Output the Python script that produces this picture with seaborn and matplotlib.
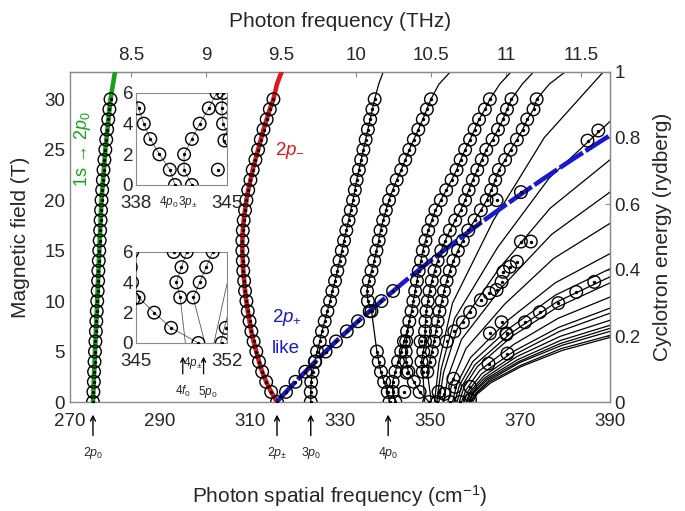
import numpy as np
import pandas as pd
import matplotlib
matplotlib.use("Agg")
import matplotlib.pyplot as plt
import matplotlib.transforms as mtransforms
import seaborn as sns

GREEN = "#16a316"
RED = "#e2161c"
BLUE = "#1717d4"
FRAME = "#8a8a8a"

# field steps (T) of the dense measured traces
field_0_30 = list(range(31))

# 1s -> 2p0 (green)
green_wn = [275.1, 275.2, 275.3, 275.35, 275.45, 275.55, 275.65, 275.75, 275.85, 275.95,
            276.05, 276.15, 276.25, 276.3, 276.4, 276.5, 276.6, 276.7, 276.8, 276.9,
            277.0, 277.15, 277.3, 277.45, 277.65, 277.85, 278.05, 278.25, 278.5, 278.75, 279.0]
green_line_B = [0, 5, 10, 15, 20, 25, 30, 32.7]
green_line_wn = [275.1, 275.55, 276.05, 276.5, 277.0, 277.85, 279.0, 280.0]

# 2p- (red)
red_wn = [316.0, 314.7, 313.6, 312.7, 312.0, 311.4, 310.8, 310.3, 309.9, 309.5,
          309.2, 308.9, 308.7, 308.5, 308.4, 308.3, 308.3, 308.4, 308.6, 308.9,
          309.2, 309.6, 310.1, 310.6, 311.2, 311.8, 312.4, 313.0, 313.7, 314.4, 315.2]
red_top_B = [31.5, 32.7]
red_top_wn = [316.0, 317.0]

# 2p+ like (blue)
blue_line_B = [0, 2, 4, 6, 8, 10, 12, 14, 16, 18, 20, 22, 24, 26, 28]
blue_line_wn = [315.9, 320.1, 324.5, 329.1, 334.0, 339.2, 344.5, 350.1, 356.0, 362.0,
                368.3, 374.8, 381.5, 388.5, 395.7]
blue_circ_B = [1, 2, 3, 4, 5, 6, 7, 8, 9, 10, 11, 20.8, 25.9, 26.9]
blue_circ_wn = [318.0, 320.1, 322.3, 324.5, 326.8, 329.1, 331.5, 334.0, 336.6, 339.2,
                341.8, 370.2, 385.0, 387.4]

# 3p0
p30_wn = [323.5, 323.5, 323.6, 323.9, 324.4, 324.9, 325.5, 326.0, 326.6, 327.2,
          327.8, 328.3, 328.9, 329.4, 329.9, 330.4, 330.9, 331.4, 331.9, 332.4,
          332.9, 333.3, 333.7, 334.2, 334.7, 335.2, 335.7, 336.2, 336.7, 337.2, 337.7]
p30_top_wn = [338.6, 339.6]

# 4p0
p40_B = [0, 1, 2, 3, 4, 5, 9, 10, 11, 12, 13, 14, 15, 16, 17, 18, 19, 20,
         21, 22, 23, 24, 25, 26, 27, 28, 29, 30]
p40_wn = [341.0, 340.6, 339.8, 339.1, 338.6, 338.2, 337.0, 336.2, 336.0, 336.4,
          337.0, 337.6, 338.1, 338.6, 339.0, 339.6, 340.2, 340.9, 341.7, 342.6,
          343.6, 344.5, 345.4, 346.4, 347.4, 348.4, 349.3, 350.2]
p40_top_wn = [352.0, 354.5]

# 3p+-
p3pm_wn = [342.3, 341.7, 341.7, 342.3, 342.9, 343.6, 344.2, 344.9, 345.4, 345.9,
           346.3, 346.7, 347.1, 347.5, 348.0, 348.4, 349.0, 349.6, 350.4, 351.2,
           352.4, 353.6, 354.8, 355.9, 356.8, 357.8, 358.9, 359.9, 360.9, 362.2, 363.3]
p3pm_top_wn = [365.5, 368.0]

# two further dense traces (from 3 T)
field_3_30 = list(range(3, 31))
tb_wn = [348.4, 348.1, 348.5, 348.9, 348.9, 349.0, 349.2, 349.5, 349.9, 350.4,
         351.0, 351.7, 352.5, 353.4, 354.4, 355.6, 356.8, 357.8, 358.6, 359.5,
         360.5, 361.5, 362.5, 363.9, 365.1, 366.2, 367.1, 368.1]
tb_ends_wn = [348.8, 370.5, 373.0]
tc_wn = [349.4, 349.9, 350.4, 350.9, 351.3, 351.7, 352.1, 352.6, 353.1, 353.7,
         354.4, 355.2, 356.2, 357.3, 358.5, 359.9, 361.3, 362.6, 363.6, 364.5,
         365.3, 366.7, 367.9, 369.3, 370.6, 371.6, 373.0, 373.7]
tc_ends_wn = [350.3, 376.5, 380.0]
ends_B = [0, 31.5, 32.7]

# low-field branch seen in the insets
td_B = [0, 1, 2, 3, 4, 5, 6, 7, 8]
td_wn = [349.8, 347.7, 346.4, 345.2, 344.7, 344.6, 344.7, 345.0, 345.4]

# scattered measured lines at low field and in the fan region
extra_B = [1.0, 2.9, 6.0, 1.0, 0.0, 0.0, 0.0, 0.2, 1.5, 1.5, 2.3, 0.8,
           6.0, 7.0, 7.9, 8.9, 10.1, 10.8, 11.1, 11.9, 12.9, 13.4, 13.9, 15.9, 15.9,
           6.7, 7.9, 8.9, 9.8, 10.9, 11.9, 3.8, 4.8, 6.8, 7.9, 6.8, 20.0]
extra_wn = [344.3, 344.8, 347.9, 351.9, 351.6, 354.4, 356.7, 358.9, 355.6, 358.9, 355.2, 353.2,
            353.7, 355.4, 357.3, 358.9, 361.3, 363.2, 364.8, 365.9, 366.3, 367.8, 369.3, 370.2, 372.4,
            367.0, 371.1, 374.4, 378.5, 382.5, 386.5, 363.0, 367.2, 367.0, 365.9, 363.3, 364.8]

# calculated fan of higher states
fan_wn = [
    [351.0, 352.0, 355.0, 364.1, 375.4, 388.5],
    [351.5, 352.5, 355.5, 365.0, 376.5, 390.0],
    [352.0, 353.0, 356.0, 365.3, 376.7, 390.0],
    [353.0, 354.0, 357.0, 366.0, 377.0, 390.0],
    [354.0, 355.0, 358.0, 366.6, 377.4, 390.0],
    [355.0, 356.0, 359.0, 367.3, 377.8, 390.0],
    [355.5, 356.5, 359.5, 367.6, 377.9, 390.0],
    [356.0, 357.0, 360.0, 367.9, 378.1, 390.0],
    [356.5, 357.5, 360.5, 368.2, 378.3, 390.0],
    [357.0, 358.0, 361.0, 368.6, 378.5, 390.0],
    [357.5, 358.5, 361.5, 368.9, 378.6, 390.0],
    [358.0, 359.0, 362.0, 369.2, 378.8, 390.0],
    [358.2, 359.2, 362.2, 369.3, 378.9, 390.0],
    [358.5, 359.5, 362.5, 369.5, 379.0, 390.0],
    [358.7, 359.7, 362.7, 369.7, 379.0, 390.0],
    [359.0, 360.0, 363.0, 369.9, 379.2, 390.0],
    [359.2, 360.2, 363.2, 370.0, 379.2, 390.0],
    [359.5, 360.5, 363.5, 370.2, 379.3, 390.0],
]
fan_B = [
    [0, 3.9, 9.8, 18.0, 26.2, 32.7],
    [0, 3.3, 8.3, 15.3, 22.2, 27.8],
    [0, 2.9, 7.2, 13.2, 19.2, 24.0],
    [0, 2.5, 6.2, 11.4, 16.6, 20.8],
    [0, 2.1, 5.3, 9.7, 14.2, 17.7],
    [0, 1.8, 4.4, 8.1, 11.8, 14.7],
    [0, 1.6, 4.0, 7.3, 10.6, 13.2],
    [0, 1.5, 3.7, 6.8, 9.9, 12.4],
    [0, 1.4, 3.5, 6.5, 9.4, 11.8],
    [0, 1.2, 3.1, 5.7, 8.3, 10.4],
    [0, 1.1, 2.8, 5.1, 7.4, 9.3],
    [0, 1.1, 2.6, 4.8, 7.0, 8.8],
    [0, 1.0, 2.4, 4.5, 6.5, 8.1],
    [0, 0.9, 2.3, 4.2, 6.1, 7.6],
    [0, 0.9, 2.2, 4.0, 5.8, 7.3],
    [0, 0.8, 2.1, 3.9, 5.6, 7.0],
    [0, 0.8, 2.0, 3.6, 5.3, 6.6],
    [0, 0.8, 1.9, 3.5, 5.1, 6.4],
]

# arrows under the axis: zero-field lines
arrow_wn = [275.1, 316.0, 323.5, 340.7]
arrow_text = ["2$p_0$", "2$p_{\\pm}$", "3$p_0$", "4$p_0$"]

top_ticks = [8.5, 9, 9.5, 10, 10.5, 11, 11.5]
right_ticks = [0, 0.2, 0.4, 0.6, 0.8, 1]
B_MAX = 32.7
CM_PER_THZ = 33.356


def circle_table():
    sets = [
        (field_0_30, green_wn), (field_0_30, red_wn), (blue_circ_B, blue_circ_wn),
        (field_0_30, p30_wn), (p40_B, p40_wn), (field_0_30, p3pm_wn),
        (field_3_30, tb_wn), (field_3_30, tc_wn), (td_B[:7], td_wn[:7]),
        (extra_B, extra_wn),
    ]
    return pd.concat([pd.DataFrame({"B": b, "wn": w}) for b, w in sets], ignore_index=True)


def line_table():
    lines = [
        (field_0_30 + ends_B[1:], p30_wn + p30_top_wn),
        (p40_B + ends_B[1:], p40_wn + p40_top_wn),
        (field_0_30 + ends_B[1:], p3pm_wn + p3pm_top_wn),
        ([0] + field_3_30 + ends_B[1:], tb_ends_wn[:1] + tb_wn + tb_ends_wn[1:]),
        ([0] + field_3_30 + ends_B[1:], tc_ends_wn[:1] + tc_wn + tc_ends_wn[1:]),
        (td_B, td_wn),
    ] + list(zip(fan_B, fan_wn))
    parts = []
    for i, (b, w) in enumerate(lines):
        parts.append(pd.DataFrame({"B": b, "wn": w, "line": i}))
    return pd.concat(parts, ignore_index=True)


def draw_data(ax, circ, lines, lw, lcolor):
    sns.lineplot(data=lines, x="wn", y="B", units="line", estimator=None, sort=False,
                 color=lcolor, lw=lw, ax=ax, zorder=2)
    sns.lineplot(x=green_line_wn, y=green_line_B, sort=False, estimator=None,
                 color=GREEN, lw=3.3, ax=ax, zorder=3)
    sns.lineplot(x=red_wn + red_top_wn, y=field_0_30 + red_top_B, sort=False, estimator=None,
                 color=RED, lw=3.3, ax=ax, zorder=3)
    sns.lineplot(x=blue_line_wn, y=blue_line_B, sort=False, estimator=None,
                 color=BLUE, lw=3.3, ls=(0, (6, 0.7)), ax=ax, zorder=3)
    sns.scatterplot(data=circ, x="wn", y="B", s=82, facecolor="none", edgecolor="k",
                    linewidth=1.0, ax=ax, zorder=4, legend=False)
    sns.scatterplot(data=circ, x="wn", y="B", s=6, color="k", linewidth=0,
                    ax=ax, zorder=5, legend=False)
    ax.set_xlabel("")
    ax.set_ylabel("")


def main():
    sns.set_style("white")
    plt.rcParams["font.family"] = ["Liberation Sans", "DejaVu Sans"]
    plt.rcParams["mathtext.fontset"] = "custom"
    plt.rcParams["mathtext.rm"] = "Liberation Sans"
    plt.rcParams["mathtext.it"] = "Liberation Sans:italic"

    circ = circle_table()
    lines = line_table()

    fig = plt.figure(figsize=(6.85, 5.11), dpi=100)
    ax = fig.add_axes([70 / 685, 109 / 511, 540 / 685, 330 / 511])
    draw_data(ax, circ, lines, 0.9, "k")
    ax.set_xlim(270, 390)
    ax.set_ylim(0, B_MAX)
    ax.set_xticks(range(270, 391, 20))
    ax.set_yticks(range(0, 31, 5))
    ax.set_yticks(range(0, 33), minor=True)
    ax.tick_params(which="both", direction="in", color=FRAME, labelsize=13.5, top=False, right=False)
    ax.tick_params(axis="x", pad=8)
    ax.tick_params(axis="y", which="minor", length=2.5)
    for sp in ax.spines.values():
        sp.set_color(FRAME)
        sp.set_linewidth(1.0)
    ax.set_xlabel("Photon spatial frequency (cm$^{-1}$)", fontsize=15, labelpad=38)
    ax.set_ylabel("Magnetic field (T)", fontsize=15, labelpad=10)

    top = ax.secondary_xaxis("top", functions=(lambda w: w / CM_PER_THZ, lambda f: f * CM_PER_THZ))
    top.set_xticks(top_ticks)
    top.set_xticklabels([f"{t:g}" for t in top_ticks])
    top.tick_params(direction="in", color=FRAME, labelsize=13.5, pad=6)
    top.set_xlabel("Photon frequency (THz)", fontsize=15, labelpad=14)

    right = ax.secondary_yaxis("right", functions=(lambda b: b / B_MAX, lambda e: e * B_MAX))
    right.set_yticks(right_ticks)
    right.set_yticklabels([f"{t:g}" for t in right_ticks])
    right.tick_params(direction="in", color=FRAME, labelsize=13.5, pad=3)
    right.set_ylabel("Cyclotron energy (rydberg)", fontsize=15, labelpad=9)
    for sec in (top, right):
        for sp in sec.spines.values():
            sp.set_color(FRAME)

    # zero-field arrows below the axis
    for wn, txt in zip(arrow_wn, arrow_text):
        ax.annotate("", xy=(wn, -0.03), xytext=(wn, -0.11),
                    xycoords=("data", "axes fraction"), textcoords=("data", "axes fraction"),
                    arrowprops=dict(arrowstyle="->,head_length=0.35,head_width=0.18", lw=1.0, color="k"),
                    annotation_clip=False)
        ax.text(wn, -0.155, txt, transform=ax.get_xaxis_transform(), ha="center", va="center",
                fontsize=9)

    ax.text(272.7, 25.0, "1s \u2192 2$p_0$", color=GREEN, rotation=90, fontsize=13,
            ha="center", va="center")
    ax.text(315.6, 24.9, "2$p_{-}$", color=RED, fontsize=13.5, ha="left", va="center")
    ax.text(314.8, 8.4, "2$p_{+}$", color=BLUE, fontsize=13.5, ha="left", va="center")
    ax.text(314.8, 5.3, "like", color=BLUE, fontsize=13.5, ha="left", va="center")

    # insets zooming into the low-field region
    for box, xlo, xhi in (([0.1222, 0.6576, 0.1685, 0.2788], 338, 345),
                          ([0.1222, 0.1788, 0.1685, 0.2758], 345, 352)):
        ins = ax.inset_axes(box)
        draw_data(ins, circ, lines, 0.6, "#555555")
        ins.set_xlim(xlo, xhi)
        ins.set_ylim(0, 6)
        ins.set_xticks([xlo, xhi])
        ins.set_xticks(range(xlo, xhi + 1), minor=True)
        ins.set_yticks([0, 2, 4, 6])
        ins.tick_params(which="both", direction="in", color=FRAME, labelsize=13.5, length=3, pad=2)
        ins.tick_params(axis="x", pad=7)
        ins.set_facecolor("white")
        for sp in ins.spines.values():
            sp.set_color(FRAME)
            sp.set_linewidth(0.8)
        trans = mtransforms.blended_transform_factory(ins.transData, ins.transAxes)
        if xlo == 338:
            ins.text(340.5, -0.185, "4$p_0$", transform=trans, fontsize=8.5, ha="center", va="center")
            ins.text(342.0, -0.185, "3$p_{\\pm}$", transform=trans, fontsize=8.5, ha="center", va="center")
        else:
            for wn in (348.6, 350.2):
                ins.annotate("", xy=(wn, -0.12), xytext=(wn, -0.37), xycoords=trans, textcoords=trans,
                             arrowprops=dict(arrowstyle="->,head_length=0.3,head_width=0.15", lw=0.9,
                                             color="k"), annotation_clip=False)
            ins.text(349.4, -0.22, "4$p_{\\pm}$", transform=trans, fontsize=8.5, ha="center", va="center")
            ins.text(348.6, -0.535, "4$f_0$", transform=trans, fontsize=8.5, ha="center", va="center")
            ins.text(350.5, -0.535, "5$p_0$", transform=trans, fontsize=8.5, ha="center", va="center")

    fig.savefig("out.png", dpi=100)


if __name__ == "__main__":
    main()
